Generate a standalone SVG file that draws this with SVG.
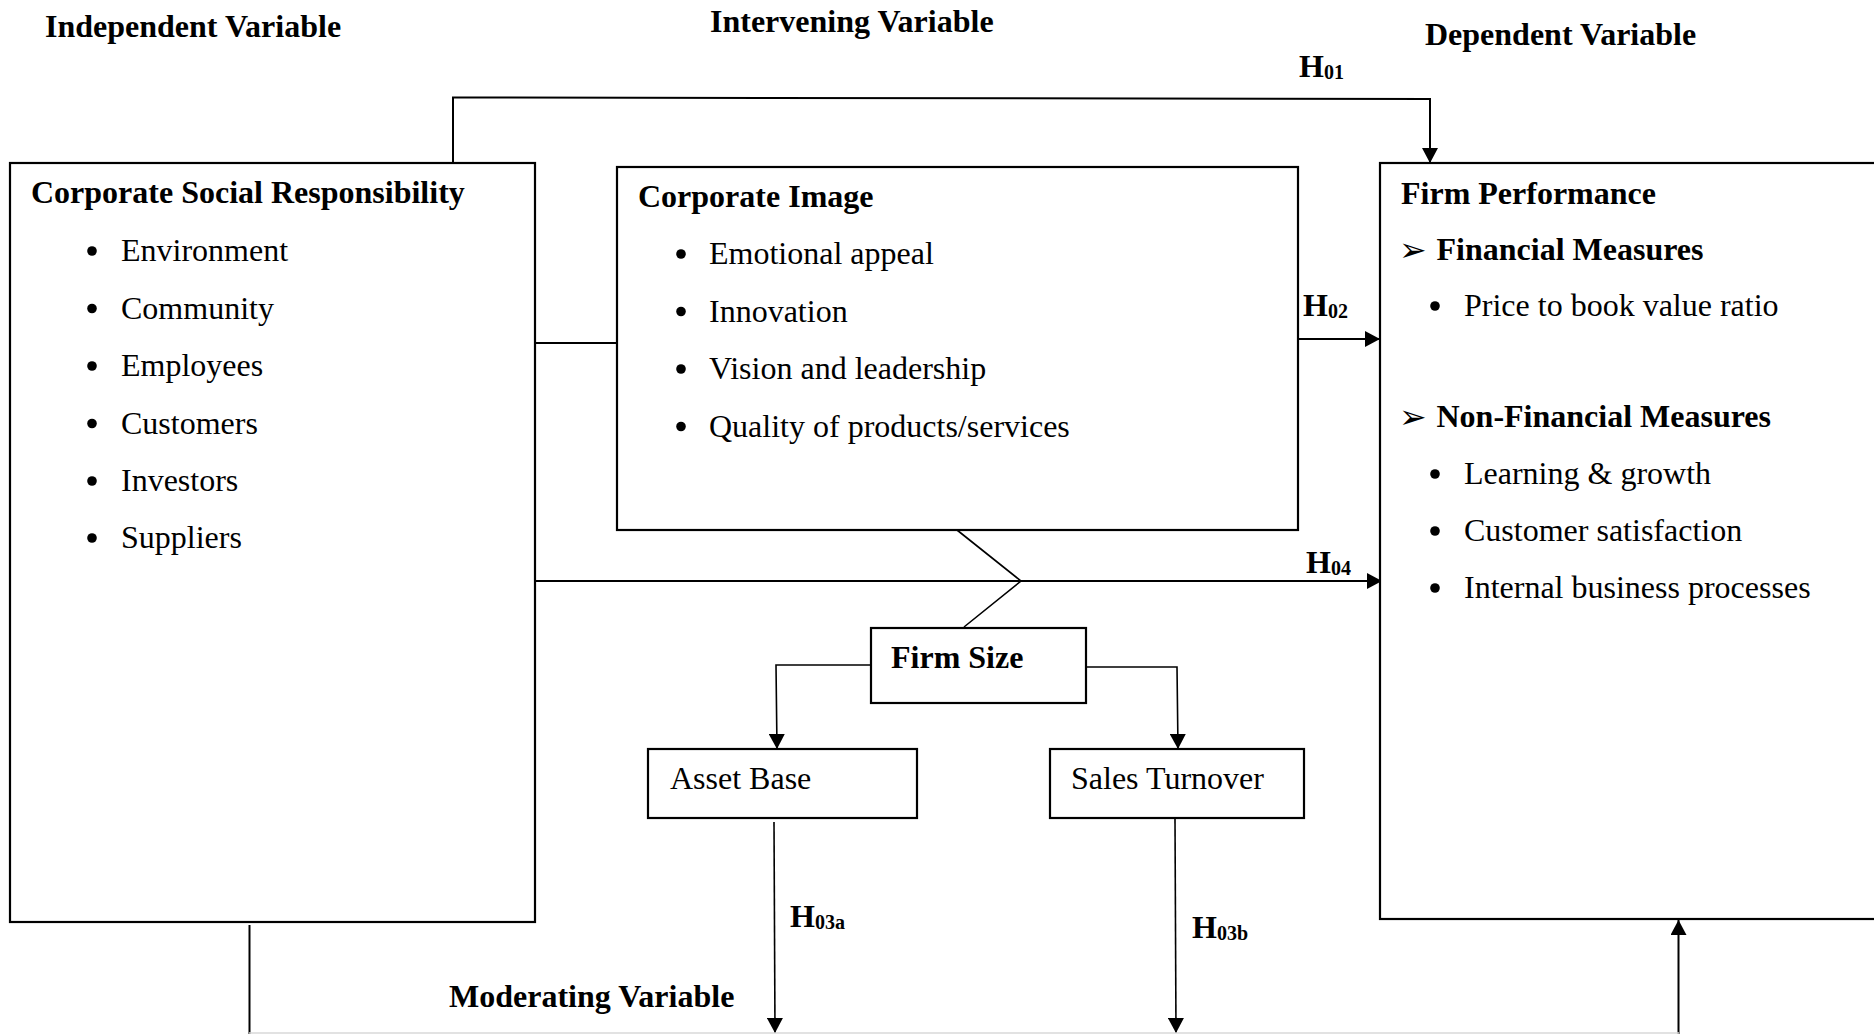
<svg xmlns="http://www.w3.org/2000/svg" width="1874" height="1034" viewBox="0 0 1874 1034">
<defs>
<style>
text{font-family:"Liberation Serif","Times New Roman",serif;font-size:32px;fill:#000}
.b{font-weight:bold}
.sub{font-size:20px;font-weight:bold}
.arr{font-family:"DejaVu Sans",sans-serif;font-size:33px}
.box{fill:#fff;stroke:#000;stroke-width:2.2}
.ln{fill:none;stroke:#000;stroke-width:2}
.thin{fill:none;stroke:#000;stroke-width:1.6}
.dot{fill:#000}
</style>
<marker id="ah" markerUnits="userSpaceOnUse" markerWidth="16" markerHeight="16" refX="15" refY="8" orient="auto">
<path d="M0,0 L15,8 L0,16 Z" fill="#000"/>
</marker>
</defs>
<rect width="1874" height="1034" fill="#fff"/>

<g id="labels">
<text class="b" x="45" y="37">Independent Variable</text>
<text class="b" x="710" y="32">Intervening Variable</text>
<text class="b" x="1425" y="45">Dependent Variable</text>
<text class="b" x="449" y="1007">Moderating Variable</text>
<text class="b" x="1299" y="77">H<tspan class="sub" dy="2">01</tspan></text>
<text class="b" x="1303" y="316">H<tspan class="sub" dy="2">02</tspan></text>
<text class="b" x="1306" y="573">H<tspan class="sub" dy="2">04</tspan></text>
<text class="b" x="790" y="927">H<tspan class="sub" dy="2">03a</tspan></text>
<text class="b" x="1192" y="938">H<tspan class="sub" dy="2">03b</tspan></text>
</g>

<g id="connectors">
<polyline class="ln" points="453,163 453,97.5 1430,99 1430,163" marker-end="url(#ah)"/>
<line class="ln" x1="535" y1="343" x2="617" y2="343"/>
<line class="ln" x1="1298" y1="339" x2="1380" y2="339" marker-end="url(#ah)"/>
<line class="ln" x1="535" y1="581" x2="1382" y2="581" marker-end="url(#ah)"/>
<polyline class="thin" points="957,530 1021,581 964,627"/>
<polyline class="thin" points="871,665 776,665 777,749" marker-end="url(#ah)"/>
<polyline class="thin" points="1085,667 1177,667 1178,749" marker-end="url(#ah)"/>
<line class="thin" x1="774" y1="822" x2="775" y2="1033" marker-end="url(#ah)"/>
<line class="thin" x1="1175" y1="819" x2="1176" y2="1033" marker-end="url(#ah)"/>
<line class="ln" x1="249.5" y1="925" x2="249.5" y2="1034"/>
<line class="ln" x1="1678.5" y1="1034" x2="1678.5" y2="920" marker-end="url(#ah)"/>
<line x1="249" y1="1033" x2="1679" y2="1033" stroke="#d8d8d8" stroke-width="1.5"/>
</g>

<g id="csr">
<rect class="box" x="10" y="163" width="525" height="759"/>
<text class="b" x="31" y="203">Corporate Social Responsibility</text>
<circle class="dot" cx="92" cy="251" r="4.8"/><text x="121" y="261">Environment</text>
<circle class="dot" cx="92" cy="308.5" r="4.8"/><text x="121" y="318.5">Community</text>
<circle class="dot" cx="92" cy="366" r="4.8"/><text x="121" y="376">Employees</text>
<circle class="dot" cx="92" cy="423.5" r="4.8"/><text x="121" y="433.5">Customers</text>
<circle class="dot" cx="92" cy="481" r="4.8"/><text x="121" y="491">Investors</text>
<circle class="dot" cx="92" cy="538" r="4.8"/><text x="121" y="548">Suppliers</text>
</g>

<g id="corporate-image">
<rect class="box" x="617" y="167" width="681" height="363"/>
<text class="b" x="638" y="207">Corporate Image</text>
<circle class="dot" cx="681" cy="254" r="4.8"/><text x="709" y="264">Emotional appeal</text>
<circle class="dot" cx="681" cy="311.5" r="4.8"/><text x="709" y="321.5">Innovation</text>
<circle class="dot" cx="681" cy="369" r="4.8"/><text x="709" y="379">Vision and leadership</text>
<circle class="dot" cx="681" cy="426.5" r="4.8"/><text x="709" y="436.5">Quality of products/services</text>
</g>

<g id="firm-performance">
<rect class="box" x="1380" y="163" width="520" height="756"/>
<text class="b" x="1401" y="204">Firm Performance</text>
<text class="arr" x="1399" y="261">➢</text><text class="b" x="1436.5" y="260">Financial Measures</text>
<circle class="dot" cx="1435" cy="306" r="4.8"/><text x="1464" y="316">Price to book value ratio</text>
<text class="arr" x="1399" y="428">➢</text><text class="b" x="1436.5" y="427">Non-Financial Measures</text>
<circle class="dot" cx="1435" cy="474" r="4.8"/><text x="1464" y="484">Learning &amp; growth</text>
<circle class="dot" cx="1435" cy="531" r="4.8"/><text x="1464" y="541">Customer satisfaction</text>
<circle class="dot" cx="1435" cy="588" r="4.8"/><text x="1464" y="598">Internal business processes</text>
</g>

<g id="firm-size">
<rect class="box" x="871" y="628" width="215" height="75"/>
<text class="b" x="891" y="668">Firm Size</text>
</g>

<g id="asset-base">
<rect class="box" x="648" y="749" width="269" height="69"/>
<text x="670" y="789">Asset Base</text>
</g>

<g id="sales-turnover">
<rect class="box" x="1050" y="749" width="254" height="69"/>
<text x="1071" y="789">Sales Turnover</text>
</g>
</svg>
